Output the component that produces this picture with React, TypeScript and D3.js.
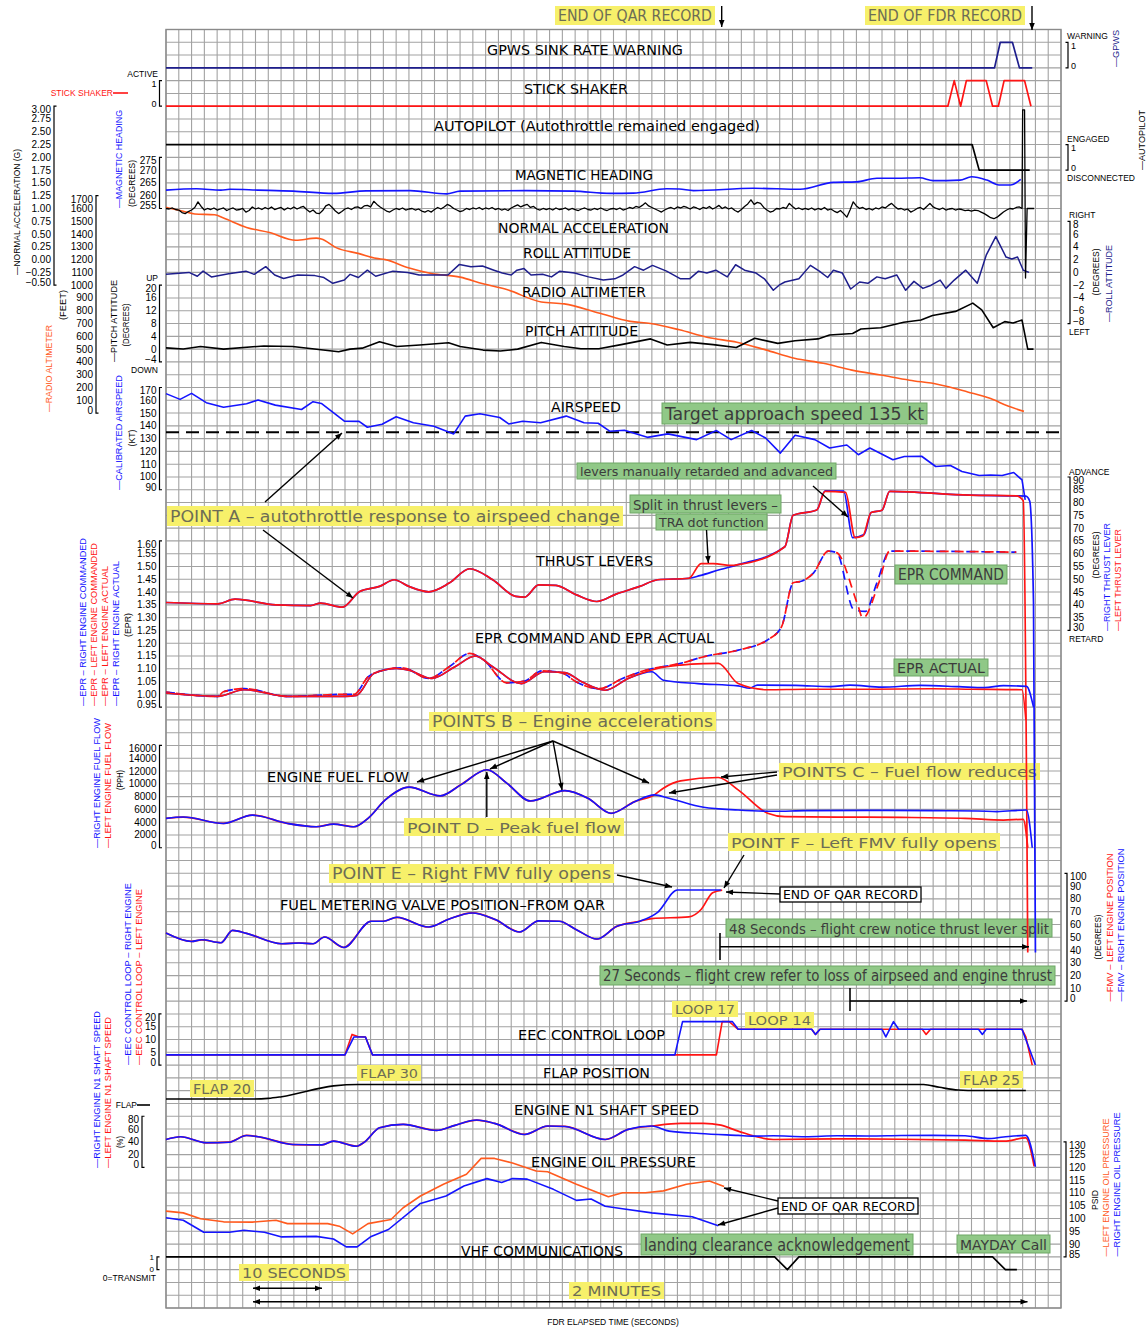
import React from "react";
import * as d3 from "d3";

type P = [number, number];

// ---------------- DATA (time in seconds, value in channel units) ----------------
const GPWS: P[] = [[0, 0], [129.6, 0], [130.5, 1], [132.4, 1], [133.5, 0], [135.5, 0]];
const STICK: P[] = [[0, 0], [122.3, 0], [123.3, 1], [124.3, 0], [125.2, 1], [128.3, 1], [129.3, 0], [130.2, 0], [131.1, 1], [134.3, 1], [135.3, 0]];
const AUTOPILOT: P[] = [[0, 1], [126.1, 1], [127.2, 0], [135.1, 0]];
const HEADING: P[] = [[0, 262.2], [4.8, 262.7], [8.6, 262.2], [10, 262.5], [14.4, 262.2], [19.9, 261.8], [26.2, 260.9], [31.3, 261.9], [38.2, 262.0], [43.9, 260.7], [46, 261.8], [56.4, 262.0], [63.7, 261.8], [69.5, 260.9], [73.1, 261.0], [78.3, 262.7], [80.3, 262.6], [82.5, 262.0], [91.9, 262.9], [99.2, 262.5], [104.4, 265.2], [108, 265.4], [111.2, 266.8], [114.3, 266.8], [117.9, 267.0], [120, 265.9], [124.2, 266.1], [126, 267.4], [128.4, 266.1], [130.3, 264.2], [132.1, 264.2], [133.7, 266.4]];
const NACC_STEP = 0.5;
const NACC_VALUES: number[] = [
  1.00, 0.99, 1.01, 0.98, 0.97, 0.92, 0.90, 0.94, 0.97, 1.02,
  1.13, 1.04, 0.97, 1.00, 0.98, 1.01, 0.97, 0.99, 1.01, 0.96,
  0.99, 1.01, 0.97, 0.98, 1.00, 0.93, 0.96, 1.03, 0.99, 1.01,
  0.98, 1.02, 0.99, 1.03, 0.98, 1.00, 1.02, 0.97, 1.01, 0.99,
  1.03, 0.99, 1.02, 1.04, 0.98, 0.93, 0.97, 0.91, 0.90, 0.96,
  1.05, 1.08, 1.02, 0.95, 0.90, 0.94, 0.99, 1.01, 0.98, 1.02,
  1.03, 1.00, 1.05, 1.06, 1.03, 1.14, 1.08, 1.03, 0.99, 0.95,
  0.93, 0.97, 1.00, 0.98, 1.01, 0.97, 0.99, 1.00, 0.97, 0.99,
  0.95, 0.93, 0.96, 0.93, 0.98, 1.02, 0.99, 1.03, 1.08, 1.05,
  1.00, 0.97, 0.94, 0.96, 1.00, 0.98, 1.01, 0.99, 1.02, 0.98,
  1.01, 0.99, 1.02, 0.98, 1.00, 0.97, 0.99, 0.96, 1.01, 1.04,
  1.07, 1.03, 1.06, 1.08, 1.02, 1.04, 0.99, 0.97, 1.00, 0.98,
  1.00, 0.97, 1.01, 0.98, 0.99, 1.01, 0.97, 1.00, 0.98, 0.96,
  0.99, 1.01, 0.98, 0.97, 1.00, 0.98, 1.01, 0.98, 0.96, 0.99,
  1.00, 0.98, 1.01, 0.97, 0.99, 1.02, 1.00, 1.04, 1.02, 1.06,
  1.11, 1.05, 1.02, 0.99, 0.96, 0.93, 0.97, 1.00, 1.02, 0.99,
  1.03, 1.01, 1.04, 1.02, 0.99, 1.03, 1.01, 0.98, 1.02, 1.00,
  1.04, 0.99, 1.02, 1.06, 1.00, 1.03, 0.99, 1.01, 0.96, 0.93,
  0.98, 1.04, 1.09, 1.17, 1.08, 1.12, 1.10, 1.02, 0.97, 0.93,
  0.95, 1.00, 0.99, 1.02, 1.00, 1.10, 1.04, 0.99, 1.01, 0.98,
  1.00, 0.98, 1.01, 0.97, 1.00, 0.98, 1.02, 0.97, 0.99, 0.95,
  0.92, 0.96, 0.90, 0.83, 0.97, 1.13, 1.05, 1.00, 1.02, 0.98,
  1.00, 0.97, 1.01, 0.99, 1.03, 1.01, 1.06, 1.10, 1.04, 0.99,
  1.00, 0.97, 0.99, 0.93, 0.96, 1.00, 1.02, 0.98, 1.04, 1.10,
  1.03, 1.00, 0.98, 1.01, 0.97, 0.99, 1.00, 0.97, 0.99, 0.98,
  0.96, 0.97, 0.95, 0.97, 0.96, 0.93, 0.90, 0.86, 0.82, 0.80,
  0.83, 0.88, 0.93, 0.97, 1.00, 0.99, 1.02, 1.03,
];
const NACC_END: P[] = [[133.9, 1.0], [134.0, 2.93], [134.3, 2.93], [134.45, -0.36], [134.7, 1.0], [135.8, 1.0]];
const ROLL: P[] = [[0, -0.3], [3.6, 0], [4.9, -0.6], [5.8, 0.2], [7.1, -0.7], [9.8, -0.2], [12.5, 0.2], [13.8, -0.3], [15.6, 0.9], [17, -0.4], [18.4, -0.95], [20.6, -0.4], [23.3, -0.5], [24.7, -0.8], [26.1, -1.7], [27.9, -1.2], [28.8, -0.3], [30.1, -0.8], [31.5, 0.35], [32.8, -0.6], [35.5, 0.2], [37.8, 0], [39.6, -0.4], [42.2, -0.4], [44.1, -0.4], [45.9, 1.25], [47.7, 0.9], [49.5, 1.0], [51.3, 0.35], [52.6, -0.1], [54, -0.4], [54.9, 0.35], [56, 0.6], [57.1, -0.4], [58.9, -0.3], [60.3, -0.7], [61.6, 0.2], [63.9, -0.1], [66.1, -0.7], [68.4, -1.2], [70.2, -1.0], [71.5, -0.4], [73.3, 0.9], [74.7, 0.35], [76.1, 1.1], [78.3, 0.2], [80.5, -1.0], [81.9, -1.0], [83.3, 0.2], [84.6, -0.1], [86, 0.35], [87.8, -0.7], [89.1, 1.2], [90.5, 0.35], [92.3, -0.1], [93.6, -1.0], [95, -2.8], [95.9, -2.0], [96.8, -1.5], [99, -1.0], [100.8, 1.1], [102.2, 0.2], [103.5, -0.8], [104.4, 0.35], [105.8, -0.1], [107.1, -2.6], [108.5, -1.5], [109.8, -1.7], [111.2, -0.7], [112.5, -1.0], [114.3, -0.4], [115.7, -2.8], [117, -1.4], [118.4, -2.5], [119.7, -2.0], [121.1, -1.2], [122, -2.5], [123.3, -1.2], [125.1, 0.35], [126.9, -1.7], [128.3, 2.7], [129.8, 5.6], [131.4, 2.4], [132.3, 2.1], [133.2, 2.4], [134.1, 0.35], [135, 0]];
const RADALT: P[] = [[0, 1609], [2.7, 1578], [4.5, 1557], [7.6, 1551], [9, 1525], [12.6, 1452], [16.2, 1412], [20.3, 1352], [23.5, 1368], [24.3, 1362], [26.6, 1294], [30.2, 1247], [32.9, 1210], [34.3, 1200], [37.9, 1137], [41.5, 1092], [46, 1063], [49.6, 1011], [53.3, 966], [58.7, 869], [62.3, 854], [67.7, 783], [72.6, 717], [75.8, 700], [80.3, 651], [84.8, 591], [89.3, 554], [93.8, 494], [98.3, 428], [102.8, 389], [107.3, 336], [111.8, 297], [116.3, 257], [120.8, 224], [125.4, 165], [129, 113], [131.7, 55], [134.2, 13]];
const PITCH: P[] = [[0, 0.4], [2.7, 0.05], [5.4, 0.8], [9, 0], [15.3, 1.0], [19.8, 0.8], [23.9, -0.1], [27, -0.8], [28.8, 0], [30.7, 0.3], [33.4, 2.3], [36.1, 0.8], [39.7, 1.3], [44.2, 2.0], [46, 0.8], [49.6, -0.3], [52.3, -0.6], [55, 0], [58.7, 2.1], [62.3, 0.8], [64.9, 0.1], [67.7, 0.1], [71.2, 1.4], [75.8, 3.2], [78.4, 1.3], [82, 2.1], [85.6, 1.4], [89.2, 0.5], [92.1, 3.4], [95.7, 1.8], [98.4, 2.6], [102, 3.2], [103.8, 4.4], [107.4, 4.9], [108.7, 6.3], [111.8, 6.7], [115.4, 8.4], [118.1, 9.1], [119.9, 10.5], [123.5, 11.8], [126.2, 14.4], [127.6, 12.3], [129.4, 6.7], [131.2, 8.6], [132.5, 8.2], [133.9, 9.1], [134.8, 0], [135.7, 0]];
const AIRSPEED: P[] = [[0, 165.2], [2.2, 160.7], [4, 165.4], [6.3, 158.1], [9, 154.6], [12.6, 157.3], [14.4, 160.2], [17.1, 156.2], [21.2, 152.8], [23, 158.9], [24.3, 157.5], [27.9, 143.6], [30.2, 143.5], [31.5, 138.9], [33.8, 141.3], [36, 147.1], [38.7, 142.4], [41.9, 139.7], [45, 133.7], [46.8, 147.6], [49.1, 149.4], [52.2, 146.5], [53.6, 141.5], [55.8, 143.6], [58.6, 142.4], [62.6, 147.6], [65.4, 142.4], [67.6, 142], [69.4, 135.8], [71.7, 136.5], [75.3, 131], [78.5, 133.7], [83, 129.2], [86.1, 136.3], [88.4, 129.2], [91.6, 136.3], [93.8, 130.5], [96.1, 118.7], [98.4, 132.6], [101.5, 129.2], [103.8, 122.7], [106.5, 125], [108.3, 117.4], [110.1, 122.7], [113.7, 113.5], [115.5, 116], [118.2, 116.2], [120.4, 108.2], [122.7, 109], [124.5, 104.3], [127.2, 101.1], [129, 101.5], [130.8, 101.1], [132.6, 103.5], [133.9, 97.7], [134.4, 82]];
const TARGET_SPEED = 135;

const TLA_COMMON: P[] = [[0, 40.9], [8.1, 40.4], [10.8, 42.2], [17.2, 40], [22.6, 39.7], [24.2, 40.7], [27.6, 39.1], [30.3, 45.2], [33.4, 47.2], [35.7, 49.8], [38, 47.2], [41.1, 45.1], [44.3, 48.5], [47.5, 54.1], [51.1, 49.8], [54.7, 43.3], [56.1, 43], [58.3, 47.8], [61, 47.6], [64.2, 43.9], [67.4, 41.3], [70.5, 44.3], [74.1, 47.2], [76.9, 49.8], [81.8, 50.4]];
const TLA_LEFT: P[] = [[83.7, 56.1], [85.6, 56.1], [88.6, 55.4], [89.5, 55.7], [96.8, 62.7], [98.1, 75], [101.8, 77.1], [103.1, 84.4], [106.3, 84], [107.8, 66.3], [109, 66.9], [110.3, 76.1], [112, 77], [113.2, 84.4], [125.7, 82.9], [133, 82.6], [134.1, 80.7], [134.8, -96]];
const TLA_RIGHT: P[] = [[83.5, 51.4], [86.7, 53.8], [89.5, 55.7], [96.8, 62.7], [98.1, 75], [101.8, 77.1], [103.1, 84.6], [106, 84.5], [107.4, 66.3], [109.2, 67.5], [110.3, 76.1], [112, 77], [113.2, 84.4], [125.7, 82.9], [133, 82.6], [134.5, 82.5], [135.1, 80.6], [135.7, 40.8], [136, -96]];

const EPRC_COMMON: P[] = [[0, 1.009], [8.1, 0.992], [9, 1.01], [12.2, 1.022], [19, 0.992], [28, 1.0], [29.4, 1.0], [31.6, 1.068], [33.9, 1.094], [37, 1.104], [41.1, 1.062], [44.3, 1.108], [47.5, 1.16], [49.7, 1.134], [53.3, 1.045], [56.1, 1.052], [58.8, 1.092], [61.9, 1.084], [64.2, 1.048], [67.8, 1.022], [71.4, 1.062], [75, 1.094], [80.5, 1.121], [84.1, 1.147], [89.5, 1.173], [94.1, 1.213], [96.3, 1.265], [98.1, 1.436], [99.5, 1.443], [101.3, 1.475], [103.6, 1.56], [104.9, 1.554]];
const EPRC_LEFT: P[] = [[108.2, 1.35], [109, 1.298], [111.5, 1.436], [113.2, 1.56], [133, 1.556]];
const EPRC_RIGHT: P[] = [[107.6, 1.331], [109.4, 1.324], [111.2, 1.436], [113.2, 1.56], [133, 1.556]];
const EPRA_COMMON: P[] = [[0, 1.005], [8.1, 0.992], [12.2, 1.018], [19, 0.992], [28, 0.992], [29.8, 0.996], [32.5, 1.081], [36.1, 1.101], [38, 1.094], [41.6, 1.062], [45.2, 1.108], [48.4, 1.15], [51.1, 1.108], [55.6, 1.042], [59.2, 1.088], [62.4, 1.085], [65.1, 1.048], [68.7, 1.016], [72.3, 1.062]];
const EPRA_LEFT: P[] = [[76.9, 1.101], [80.5, 1.114], [84.1, 1.12], [86.4, 1.121], [89.5, 1.042], [94.1, 1.018], [100, 1.02], [110, 1.02], [120, 1.022], [126, 1.02], [133.9, 1.018], [134.5, 0.9]];
const EPRA_RIGHT: P[] = [[76, 1.088], [77.8, 1.055], [83.2, 1.042], [89.5, 1.033], [91.3, 1.024], [92.5, 1.036], [98.5, 1.035], [104, 1.03], [107, 1.036], [112, 1.028], [118, 1.035], [124, 1.03], [128, 1.026], [131, 1.034], [134.6, 1.031], [135.7, 0.95]];

const FF_COMMON: P[] = [[0, 4600], [2.7, 4800], [9, 3800], [13.5, 5100], [19, 3800], [23.5, 3280], [26.2, 3700], [29.4, 3280], [31.6, 4600], [34.3, 7480], [38, 9480], [42.9, 8110], [46.1, 9840], [50.2, 12200], [53.3, 10100], [57, 7320], [62.4, 8940], [66, 7740], [69.6, 5390], [73.3, 7210], [76.4, 8270]];
const FF_LEFT: P[] = [[77.8, 9320], [80.5, 10470], [86.4, 10990], [89.5, 9060], [94.1, 5390], [96.8, 4860], [105, 4800], [115, 4750], [125, 4600], [131, 4330], [134.1, 4450], [134.8, 0]];
const FF_RIGHT: P[] = [[78.7, 7740], [84.1, 6330], [89.5, 5900], [95, 5700], [100, 5800], [110, 5850], [120, 5800], [127, 5750], [130, 5650], [134.6, 5900], [135.5, 0]];

const FMV_COMMON: P[] = [[0, 53.3], [4, 46.7], [5.6, 48], [8.6, 45.7], [10.4, 55.4], [12.6, 53], [18.1, 44.9], [20.8, 45.5], [23, 44.9], [24.8, 50.2], [27.8, 42], [32.1, 62.5], [34, 62.5], [36.1, 65.6], [41.1, 58], [44.3, 64.3], [47.9, 69], [51.5, 63.8], [55.3, 54.1], [58.3, 62.8], [61.5, 62.5], [64.2, 55.9], [67.4, 48.6], [70.5, 58.5], [74.1, 62.5]];
const FMV_LEFT: P[] = [[76, 64.6], [81.8, 65.9], [83.7, 71.7], [85.5, 84.8], [87, 86.9]];
const FMV_RIGHT: P[] = [[76.9, 69.5], [80, 86.9], [86.8, 86.9]];

const EEC_LEFT: P[] = [[0, 4], [28, 4], [29.1, 12], [30, 11.2], [31.2, 11], [32.3, 4], [86.1, 4], [87, 17], [88.1, 17], [89.5, 14], [101, 14], [101.6, 12], [102.3, 14], [118.3, 14], [118.9, 12], [119.6, 14], [133.9, 14], [134.5, 11], [135.5, 0]];
const EEC_RIGHT: P[] = [[0, 4], [28, 4], [29.4, 11], [31.2, 11], [32.3, 4], [79.6, 4], [80.8, 17], [88.6, 17], [89.5, 14], [101, 14], [101.6, 12], [102.3, 14], [112, 14], [112.6, 11], [113.8, 17], [114.6, 14], [127.1, 14], [127.7, 12], [128.3, 14], [133.9, 14], [136, 0]];
const FLAP: P[] = [[0, 20], [13.5, 20], [16, 20.4], [18.1, 21.6], [26.2, 29.3], [30, 30.3], [118.5, 30.3], [121, 28.3], [123.9, 26.4], [127, 26], [134.5, 26]];
const N1_COMMON: P[] = [[0, 43.6], [2.3, 47.9], [6.3, 38.4], [9.9, 39.4], [12.6, 49.9], [14.9, 47], [19.9, 35.7], [24.4, 35.2], [26.2, 41], [29.8, 33.1], [31.1, 40], [33.4, 62], [37.1, 67.2], [42.3, 57.8], [45.2, 65.7], [48.6, 74], [51.4, 68.8], [56.1, 51.5], [59.7, 64.6], [62.4, 64], [68.7, 43.6], [72.3, 59.4], [76, 64.6]];
const N1_LEFT: P[] = [[80.5, 68.8], [84.1, 68.8], [86.8, 66], [89.5, 56.7], [95, 43.6], [105, 44.5], [115, 44], [125, 42.5], [131.1, 41], [134.5, 46], [135.8, 1.6]];
const N1_RIGHT: P[] = [[78.7, 56.7], [83.5, 53], [89.5, 50], [92, 48.8], [95, 49.5], [100, 48], [105, 49.5], [110, 49], [115, 49.8], [120, 50], [125, 49.5], [128.5, 45], [131, 47.5], [134.5, 50], [136, 1]];
const OIL_LEFT: P[] = [[0, 102.9], [2.7, 102.2], [5.4, 99.9], [9, 98.7], [13.5, 98.6], [17.2, 99.3], [19, 98], [25.3, 98], [27.1, 97], [29.2, 94], [31.6, 98], [35.2, 99.6], [37.1, 104.2], [39.8, 108.8], [43.4, 113.4], [47, 117.3], [49.3, 123.5], [51.4, 123.5], [54.2, 121.7], [57.9, 118.6], [59.7, 118.3], [64.2, 113.4], [69.2, 108.5], [71.4, 110.1], [75, 110.1], [77.8, 110.8], [81.4, 113.4], [85, 114.7], [87.3, 112.5]];
const OIL_RIGHT: P[] = [[0, 100.3], [2.7, 99.3], [5.9, 94.6], [9.9, 94.6], [12.2, 95.4], [15.4, 94.6], [18.1, 92.8], [23.5, 93], [26.2, 92], [28.2, 88.9], [29.9, 88.9], [32.1, 93], [34.8, 95.7], [39.8, 105.9], [43.8, 108.8], [46.6, 112.7], [50.2, 115.6], [52.5, 114.1], [54.2, 115.6], [56.5, 115.4], [60.6, 111.4], [64.2, 107.1], [66.5, 107.6], [68.7, 104.8], [71.4, 103.8], [76, 102.2], [82.3, 100.7], [86.4, 97.2]];
const VHF: P[] = [[0, 1], [95.2, 1], [97.2, 0], [99, 1], [129.3, 1], [131.3, 0], [133.1, 0]];

// ---------------- LAYOUT ----------------
const W = 1147, H = 1331;
const PL = 166, PR = 1061, PT = 29.5, ROWH = 12.785, NROWS = 100;
const xTime = d3.scaleLinear().domain([0, 140]).range([PL, PR]);
const yRow = d3.scaleLinear().domain([0, NROWS]).range([PT, PT + NROWS * ROWH]);
const chan = (v0: number, r0: number, perRow: number) =>
  d3.scaleLinear().domain([v0, v0 + perRow]).range([yRow(r0), yRow(r0 - 1)]);

const sGpws = chan(0, 3, 0.5);
const sStick = chan(0, 6, 0.5);
const sAuto = chan(0, 11, 0.5);
const sHead = chan(255, 14, 5);
const sNacc = chan(1, 14, 0.25);
const sRoll = chan(0, 19, 2);
const sRalt = chan(0, 30, 100);
const sPitch = chan(0, 25, 4);
const sIas = chan(130, 32, 10);
const sTla = chan(40, 45, 5);
const sEpr = chan(1, 52, 0.05);
const sFF = chan(0, 64, 2000);
const sFmv = chan(0, 76, 10);
const sEec = chan(0, 81, 5);
const sFlap = chan(20, 83.65, 9.1);
const sN1 = chan(0, 89, 20);
const sOil = chan(100, 93, 5);
const sVhf = chan(0, 97, 1);

const BLUE = "#1414ff";
const NAVY = "#1e1e8c";
const RED = "#ff1414";
const ORANGE = "#ff5a1e";
const FONT = "'Liberation Sans', Arial, sans-serif";
const NARROW = "'Liberation Sans Narrow', 'DejaVu Sans Condensed', 'Liberation Sans', sans-serif";
const YEL = "#f7f06a", YEL_TXT = "#6d6d55";
const GRN = "#90c887", GRN_BD = "#6fa866", GRN_TXT = "#3c3c3c";

const fmt = (f: string) => {
  const g = d3.format(f);
  return (v: number) => g(v).replace("-", "\u2212");
};

type Axis = { s: any; ticks: number[]; f: (v: number) => string; x: number; side: "L" | "R"; fs: number; shift: boolean };
const rng = (a: number, b: number, st: number) => d3.range(a, b + st / 2, st);
const AXES: Axis[] = [
  { s: sStick, ticks: [0, 1], f: fmt("d"), x: 159.5, side: "L", fs: 9, shift: true },
  { s: sNacc, ticks: rng(-0.5, 3, 0.25), f: fmt(".2f"), x: 54, side: "L", fs: 10, shift: true },
  { s: sHead, ticks: rng(255, 275, 5), f: fmt("d"), x: 159.5, side: "L", fs: 10, shift: true },
  { s: sRalt, ticks: rng(0, 1700, 100), f: fmt("d"), x: 96, side: "L", fs: 10, shift: true },
  { s: sPitch, ticks: rng(-4, 20, 4), f: fmt("d"), x: 159.5, side: "L", fs: 10, shift: true },
  { s: sIas, ticks: rng(90, 170, 10), f: fmt("d"), x: 159.5, side: "L", fs: 10, shift: true },
  { s: sEpr, ticks: rng(0.95, 1.6, 0.05), f: fmt(".2f"), x: 159.5, side: "L", fs: 10, shift: true },
  { s: sFF, ticks: rng(0, 16000, 2000), f: fmt("d"), x: 159.5, side: "L", fs: 10, shift: true },
  { s: sEec, ticks: rng(0, 20, 5), f: fmt("d"), x: 159, side: "L", fs: 10, shift: true },
  { s: sN1, ticks: rng(0, 80, 20), f: fmt("d"), x: 142, side: "L", fs: 10, shift: true },
  { s: sVhf, ticks: [0, 1], f: fmt("d"), x: 157, side: "L", fs: 8, shift: false },
  { s: sGpws, ticks: [0, 1], f: fmt("d"), x: 1068, side: "R", fs: 9, shift: true },
  { s: sAuto, ticks: [0, 1], f: fmt("d"), x: 1068, side: "R", fs: 9, shift: true },
  { s: sRoll, ticks: rng(-8, 8, 2), f: fmt("d"), x: 1070, side: "R", fs: 10, shift: true },
  { s: sTla, ticks: rng(30, 90, 5), f: fmt("d"), x: 1070, side: "R", fs: 10, shift: true },
  { s: sFmv, ticks: rng(0, 100, 10), f: fmt("d"), x: 1067, side: "R", fs: 10, shift: true },
  { s: sOil, ticks: rng(85, 130, 5), f: fmt("d"), x: 1066, side: "R", fs: 10, shift: true },
];

const TITLES = [
  { t: "GPWS  SINK  RATE  WARNING", x0: 487, x1: 683, y: 55 },
  { t: "STICK  SHAKER", x0: 524, x1: 628, y: 94 },
  { t: "AUTOPILOT  (Autothrottle  remained  engaged)", x0: 434, x1: 760, y: 131 },
  { t: "MAGNETIC  HEADING", x0: 515, x1: 653, y: 180 },
  { t: "NORMAL  ACCELERATION", x0: 498, x1: 669, y: 233 },
  { t: "ROLL  ATTITUDE", x0: 523, x1: 631, y: 258 },
  { t: "RADIO  ALTIMETER", x0: 522, x1: 646, y: 296.5 },
  { t: "PITCH  ATTITUDE", x0: 525, x1: 638, y: 335.5 },
  { t: "AIRSPEED", x0: 551, x1: 621, y: 412 },
  { t: "THRUST  LEVERS", x0: 536, x1: 653, y: 566 },
  { t: "EPR  COMMAND  AND  EPR  ACTUAL", x0: 475, x1: 714, y: 643 },
  { t: "ENGINE  FUEL  FLOW", x0: 267, x1: 409, y: 782 },
  { t: "FUEL  METERING  VALVE  POSITION\u2013FROM  QAR", x0: 280, x1: 605, y: 910 },
  { t: "EEC  CONTROL  LOOP", x0: 518, x1: 665, y: 1040 },
  { t: "FLAP  POSITION", x0: 543, x1: 650, y: 1078 },
  { t: "ENGINE  N1  SHAFT  SPEED", x0: 514, x1: 699, y: 1115 },
  { t: "ENGINE  OIL  PRESSURE", x0: 531, x1: 696, y: 1167 },
  { t: "VHF  COMMUNICATIONS", x0: 461, x1: 623, y: 1256 },
];

type Box = { t: string; x: number; y: number; w: number; h: number; k: "y" | "g" | "w" };
const BOXES: Box[] = [
  { t: "END  OF  QAR  RECORD", x: 555, y: 6, w: 160, h: 19, k: "y" },
  { t: "END  OF  FDR  RECORD", x: 865, y: 6, w: 160, h: 19, k: "y" },
  { t: "Target  approach  speed  135  kt", x: 662, y: 403, w: 265, h: 21, k: "g" },
  { t: "levers  manually  retarded  and  advanced", x: 577, y: 463, w: 259, h: 16, k: "g" },
  { t: "Split  in  thrust  levers  \u2013", x: 630, y: 495, w: 151, h: 18, k: "g" },
  { t: "TRA  dot  function", x: 656, y: 514, w: 111, h: 16, k: "g" },
  { t: "POINT  A  \u2013  autothrottle  response  to  airspeed  change", x: 167, y: 506, w: 456, h: 20, k: "y" },
  { t: "EPR  COMMAND", x: 895, y: 565, w: 112, h: 19, k: "g" },
  { t: "EPR  ACTUAL", x: 894, y: 659, w: 94, h: 17, k: "g" },
  { t: "POINTS  B  \u2013  Engine  accelerations", x: 429, y: 712, w: 287, h: 19, k: "y" },
  { t: "POINTS  C  \u2013  Fuel  flow  reduces", x: 779, y: 763, w: 261, h: 17, k: "y" },
  { t: "POINT  D  \u2013  Peak  fuel  flow", x: 404, y: 818, w: 220, h: 18, k: "y" },
  { t: "POINT  F  \u2013  Left  FMV  fully  opens", x: 728, y: 833, w: 272, h: 18, k: "y" },
  { t: "POINT  E  \u2013  Right  FMV  fully  opens", x: 329, y: 864, w: 285, h: 19, k: "y" },
  { t: "END  OF  QAR  RECORD", x: 780, y: 887, w: 141, h: 15, k: "w" },
  { t: "48  Seconds  \u2013  flight  crew  notice  thrust  lever  split", x: 726, y: 919, w: 326, h: 18, k: "g" },
  { t: "27  Seconds  \u2013  flight  crew  refer  to  loss  of  airpseed  and  engine  thrust", x: 600, y: 966, w: 455, h: 19, k: "g" },
  { t: "LOOP  17", x: 672, y: 1001, w: 66, h: 16, k: "y" },
  { t: "LOOP  14", x: 745, y: 1012, w: 69, h: 16, k: "y" },
  { t: "FLAP  20", x: 190, y: 1080, w: 64, h: 17, k: "y" },
  { t: "FLAP  30", x: 357, y: 1065, w: 64, h: 16, k: "y" },
  { t: "FLAP  25", x: 960, y: 1071, w: 63, h: 17, k: "y" },
  { t: "END  OF  QAR  RECORD", x: 778, y: 1198, w: 140, h: 16, k: "w" },
  { t: "landing  clearance  acknowledgement", x: 641, y: 1234, w: 272, h: 21, k: "g" },
  { t: "MAYDAY  Call", x: 957, y: 1235, w: 93, h: 18, k: "g" },
  { t: "10  SECONDS", x: 239, y: 1264, w: 110, h: 17, k: "y" },
  { t: "2  MINUTES", x: 569, y: 1282, w: 95, h: 17, k: "y" },
];

// arrows: [x1,y1,x2,y2, heads(1 end,2 both)]
const ARROWS: [number, number, number, number, number][] = [
  [721.7, 6, 721.7, 27, 1],
  [1032, 6, 1032, 30, 1],
  [265, 502, 342, 433, 1],
  [263, 530, 353, 598, 1],
  [813, 486, 848, 517, 1],
  [706.5, 530, 708.3, 563, 1],
  [553, 741, 417, 782, 1],
  [553, 741, 490, 769, 1],
  [553, 741, 562, 790, 1],
  [553, 741, 649, 783, 1],
  [486.8, 817, 486.8, 772, 1],
  [777, 772, 721, 777, 1],
  [777, 775, 669, 793, 1],
  [617, 875, 672, 887, 1],
  [744, 855, 724, 888, 1],
  [780, 894, 726, 892, 1],
  [720, 946.7, 1029, 946.7, 1],
  [850, 1001, 1027, 1001, 1],
  [778, 1201, 724, 1188, 1],
  [778, 1208, 718, 1225, 1],
  [253, 1288.3, 322, 1288.3, 2],
  [253, 1301.7, 1027.5, 1301.7, 2],
];
const TICKS: [number, number, number][] = [
  [720, 933, 960],
  [850, 988, 1011],
];

// rotated labels: [text, x, y(bottom or center), len, color, centered]
const ROT: [string, number, number, number, string, boolean][] = [
  ["\u2014NORMAL  ACCELERATION  (G)", 16, 275, 126, "#000", false],
  ["\u2014MAGNETIC  HEADING", 118, 208, 98, BLUE, false],
  ["(DEGREES)", 131, 183.5, 47, "#000", true],
  ["\u2014RADIO  ALTIMETER", 48, 412, 87, ORANGE, false],
  ["(FEET)", 62, 305, 30, "#000", true],
  ["\u2014PITCH  ATTITUDE", 113, 362, 82, "#000", false],
  ["(DEGREES)", 125, 325, 43, "#000", true],
  ["\u2014CALIBRATED  AIRSPEED", 118, 490, 115, BLUE, false],
  ["(KT)", 131, 438, 17, "#000", true],
  ["\u2014EPR  \u2013  RIGHT  ENGINE  COMMANDED", 82, 706, 168, BLUE, false],
  ["\u2014EPR  \u2013  LEFT  ENGINE  COMMANDED", 93, 706, 163, RED, false],
  ["\u2014EPR  \u2013  LEFT  ENGINE  ACTUAL", 104, 706, 140, RED, false],
  ["\u2014EPR  \u2013  RIGHT  ENGINE  ACTUAL", 115, 706, 145, BLUE, false],
  ["(EPR)", 127, 625, 24, "#000", true],
  ["\u2014RIGHT  ENGINE  FUEL  FLOW", 96, 848, 130, BLUE, false],
  ["\u2014LEFT  ENGINE  FUEL  FLOW", 107, 848, 125, RED, false],
  ["(PPH)", 119, 780, 20, "#000", true],
  ["\u2014EEC  CONTROL  LOOP  \u2013  RIGHT  ENGINE", 127, 1065, 182, BLUE, false],
  ["\u2014EEC  CONTROL  LOOP  \u2013  LEFT  ENGINE", 138, 1065, 176, RED, false],
  ["\u2014RIGHT  ENGINE  N1  SHAFT  SPEED", 96, 1168, 157, BLUE, false],
  ["\u2014LEFT  ENGINE  N1  SHAFT  SPEED", 107, 1168, 151, RED, false],
  ["(%)", 119, 1142, 12, "#000", true],
  ["\u2014GPWS", 1115, 67, 37, NAVY, false],
  ["\u2014AUTOPILOT", 1141.5, 170, 60, "#000", false],
  ["(DEGREES)", 1095, 272, 47, "#000", true],
  ["\u2014ROLL  ATTITUDE", 1108, 322, 77, NAVY, false],
  ["(DEGREES)", 1095, 555, 47, "#000", true],
  ["\u2014RIGHT  THRUST  LEVER", 1106, 631, 108, BLUE, false],
  ["\u2014LEFT  THRUST  LEVER", 1117, 631, 102, RED, false],
  ["(DEGREES)", 1097, 937, 45, "#000", true],
  ["\u2014FMV  \u2013  LEFT  ENGINE  POSITION", 1109, 1001.5, 148, RED, false],
  ["\u2014FMV  \u2013  RIGHT  ENGINE  POSITION", 1120, 1001.5, 153, BLUE, false],
  ["PSID", 1094, 1200, 20, "#000", true],
  ["\u2014LEFT  ENGINE  OIL  PRESSURE", 1105, 1256.5, 138, ORANGE, false],
  ["\u2014RIGHT  ENGINE  OIL  PRESSURE", 1116, 1256.5, 144, BLUE, false],
];

// horizontal words: [text, x, y, anchor, color, size]
const WORDS: [string, number, number, "start" | "end" | "middle", string, number][] = [
  ["ACTIVE", 158, 77, "end", "#000", 8.5],
  ["UP", 158, 281, "end", "#000", 8.5],
  ["DOWN", 158, 372.5, "end", "#000", 8.5],
  ["0=TRANSMIT", 156, 1281, "end", "#000", 8.5],
  ["WARNING", 1067, 38.5, "start", "#000", 8.5],
  ["ENGAGED", 1067, 141.5, "start", "#000", 8.5],
  ["DISCONNECTED", 1067, 180.5, "start", "#000", 8.5],
  ["RIGHT", 1069, 217.5, "start", "#000", 8.5],
  ["LEFT", 1069, 334.5, "start", "#000", 8.5],
  ["ADVANCE", 1069, 474.5, "start", "#000", 8.5],
  ["RETARD", 1069, 641.5, "start", "#000", 8.5],
  ["FDR ELAPSED TIME (SECONDS)", 613, 1325, "middle", "#000", 8.5],
];

type Series = { d: P[]; s: any; c: string; w: number; dash?: string; off?: number; smooth?: boolean };
const NACC: P[] = NACC_VALUES.map((v, i) => [i * NACC_STEP, v] as P).concat(NACC_END);
const SERIES: Series[] = [
  { d: GPWS, s: sGpws, c: NAVY, w: 1.7 },
  { d: STICK, s: sStick, c: RED, w: 1.7 },
  { d: AUTOPILOT, s: sAuto, c: "#000", w: 1.7 },
  { d: HEADING, s: sHead, c: BLUE, w: 1.6, smooth: true },
  { d: RADALT, s: sRalt, c: ORANGE, w: 1.6, smooth: true },
  { d: ROLL, s: sRoll, c: NAVY, w: 1.5 },
  { d: PITCH, s: sPitch, c: "#000", w: 1.6 },
  { d: NACC, s: sNacc, c: "#000", w: 1.3 },
  { d: AIRSPEED, s: sIas, c: BLUE, w: 1.6 },
  { d: TLA_COMMON.concat(TLA_RIGHT), s: sTla, c: BLUE, w: 1.7, smooth: true },
  { d: TLA_COMMON.concat(TLA_LEFT), s: sTla, c: RED, w: 1.7, smooth: true },
  { d: EPRC_COMMON.concat(EPRC_RIGHT), s: sEpr, c: BLUE, w: 1.7, dash: "9,6", off: 0, smooth: true },
  { d: EPRC_COMMON.concat(EPRC_LEFT), s: sEpr, c: RED, w: 1.7, dash: "9,6", off: 5, smooth: true },
  { d: EPRA_COMMON.concat(EPRA_RIGHT), s: sEpr, c: BLUE, w: 1.6, smooth: true },
  { d: EPRA_COMMON.concat(EPRA_LEFT), s: sEpr, c: RED, w: 1.6, smooth: true },
  { d: FF_COMMON.concat(FF_LEFT), s: sFF, c: RED, w: 1.7, smooth: true },
  { d: FF_COMMON.concat(FF_RIGHT), s: sFF, c: BLUE, w: 1.6, smooth: true },
  { d: FMV_COMMON.concat(FMV_LEFT), s: sFmv, c: RED, w: 1.7, smooth: true },
  { d: FMV_COMMON.concat(FMV_RIGHT), s: sFmv, c: BLUE, w: 1.6, smooth: true },
  { d: EEC_LEFT, s: sEec, c: RED, w: 1.6 },
  { d: EEC_RIGHT, s: sEec, c: BLUE, w: 1.6 },
  { d: FLAP, s: sFlap, c: "#000", w: 1.6, smooth: true },
  { d: N1_COMMON.concat(N1_LEFT), s: sN1, c: RED, w: 1.7, smooth: true },
  { d: N1_COMMON.concat(N1_RIGHT), s: sN1, c: BLUE, w: 1.6, smooth: true },
  { d: OIL_LEFT, s: sOil, c: ORANGE, w: 1.6 },
  { d: OIL_RIGHT, s: sOil, c: BLUE, w: 1.6 },
  { d: VHF, s: sVhf, c: "#000", w: 1.6 },
];

export default function App() {
  const vLines = d3.range(0, 141, 2);
  const hLines = d3.range(0, NROWS + 1);
  const path = (s: any, smooth?: boolean) =>
    d3.line<P>().x((d) => xTime(d[0])).y((d) => s(d[1])).curve(smooth ? d3.curveMonotoneX : d3.curveLinear);

  return (
    <svg width={W} height={H} viewBox={`0 0 ${W} ${H}`}
      style={{ position: "absolute", left: 0, top: 0, background: "#fff" }}>
      <defs>
        <marker id="ah" viewBox="0 0 10 10" refX="10" refY="5" markerWidth="8" markerHeight="7"
          markerUnits="userSpaceOnUse" orient="auto-start-reverse">
          <path d="M0,1 L10,5 L0,9 Z" fill="#000" />
        </marker>
      </defs>
      <rect x={0} y={0} width={W} height={H} fill="#fff" />
      {/* grid */}
      <g stroke="#a2a2a2" strokeWidth={1.1}>
        {vLines.map((t) => (
          <line key={"v" + t} x1={xTime(t)} x2={xTime(t)} y1={yRow(0)} y2={yRow(NROWS)} />
        ))}
        {hLines.map((r) => (
          <line key={"h" + r} x1={PL} x2={PR} y1={yRow(r)} y2={yRow(r)} />
        ))}
      </g>
      <rect x={PL} y={yRow(0)} width={PR - PL} height={yRow(NROWS) - yRow(0)} fill="none" stroke="#8a8a8a" strokeWidth={1.4} />

      {/* boxes */}
      {BOXES.map((b, i) => (
        <g key={"b" + i}>
          <rect x={b.x} y={b.y} width={b.w} height={b.h}
            fill={b.k === "y" ? YEL : b.k === "g" ? GRN : "#fff"}
            stroke={b.k === "g" ? GRN_BD : b.k === "w" ? "#000" : "none"} strokeWidth={b.k === "w" ? 1.3 : 1} />
          <text x={b.x + b.w / 2} y={b.y + b.h / 2 + 0.5} textAnchor="middle" dominantBaseline="central"
            fontFamily={NARROW} fontSize={b.h * (b.k === "w" ? 0.78 : 0.8)}
            fill={b.k === "y" ? YEL_TXT : b.k === "g" ? GRN_TXT : "#000"}
            textLength={b.w - 6} lengthAdjust="spacingAndGlyphs">{b.t}</text>
        </g>
      ))}

      {/* target speed dashed line */}
      <line x1={PL} x2={PR} y1={sIas(TARGET_SPEED)} y2={sIas(TARGET_SPEED)} stroke="#000" strokeWidth={2} strokeDasharray="13,7" />

      {/* traces */}
      {SERIES.map((s, i) => (
        <path key={"s" + i} d={path(s.s, s.smooth)(s.d) || ""} fill="none" stroke={s.c} strokeWidth={s.w}
          strokeLinejoin="round" strokeDasharray={s.dash} strokeDashoffset={s.off} />
      ))}

      {/* titles */}
      {TITLES.map((t, i) => (
        <text key={"t" + i} x={t.x0} y={t.y} fontFamily={NARROW} fontSize={14.5}
          textLength={t.x1 - t.x0} lengthAdjust="spacingAndGlyphs" fill="#000">{t.t}</text>
      ))}

      {/* arrows */}
      {ARROWS.map((a, i) => (
        <line key={"a" + i} x1={a[0]} y1={a[1]} x2={a[2]} y2={a[3]} stroke="#000" strokeWidth={1.4}
          markerEnd="url(#ah)" markerStart={a[4] === 2 ? "url(#ah)" : undefined} />
      ))}
      {TICKS.map((k, i) => (
        <line key={"k" + i} x1={k[0]} x2={k[0]} y1={k[1]} y2={k[2]} stroke="#000" strokeWidth={1.6} />
      ))}

      {/* axes */}
      {AXES.map((a, i) => {
        const vals = a.ticks.map((v) => a.s(v));
        const y0 = Math.min(...vals), y1 = Math.max(...vals);
        const dir = a.side === "L" ? 1 : -1;
        return (
          <g key={"ax" + i}>
            <path d={`M${a.x + 2.5 * dir},${y0} H${a.x} V${y1} H${a.x + 2.5 * dir}`} fill="none" stroke="#000" strokeWidth={1.2} />
            {a.ticks.map((v, j) => {
              const y = a.s(v);
              const shift = !a.shift ? 0 : y === y0 ? 3.5 : y === y1 ? -2.5 : 0;
              return (
                <text key={j} x={a.side === "L" ? a.x - 3 : a.x + 3} y={y + shift} dy="0.35em"
                  textAnchor={a.side === "L" ? "end" : "start"} fontFamily={FONT} fontSize={a.fs} fill="#000">
                  {a.f(v)}
                </text>
              );
            })}
          </g>
        );
      })}

      {/* stick shaker & flap side labels */}
      <text x={113} y={93} dy="0.35em" textAnchor="end" fontFamily={FONT} fontSize={8.5} fill={RED}>STICK  SHAKER</text>
      <line x1={113} x2={128} y1={93} y2={93} stroke={RED} strokeWidth={1.6} />
      <text x={137} y={1105} dy="0.35em" textAnchor="end" fontFamily={FONT} fontSize={8.5} fill="#000">FLAP</text>
      <line x1={137} x2={150} y1={1105} y2={1105} stroke="#000" strokeWidth={1.6} />

      {WORDS.map((w, i) => (
        <text key={"w" + i} x={w[1]} y={w[2]} textAnchor={w[3]} fontFamily={FONT} fontSize={w[5]} fill={w[4]}>{w[0]}</text>
      ))}

      {ROT.map((r, i) => (
        <text key={"r" + i} transform={`translate(${r[1]},${r[2]}) rotate(-90)`} textAnchor={r[5] ? "middle" : "start"}
          dominantBaseline="central" fontFamily={FONT} fontSize={9.5} fill={r[4]}
          textLength={r[3]} lengthAdjust="spacingAndGlyphs">{r[0]}</text>
      ))}
    </svg>
  );
}
